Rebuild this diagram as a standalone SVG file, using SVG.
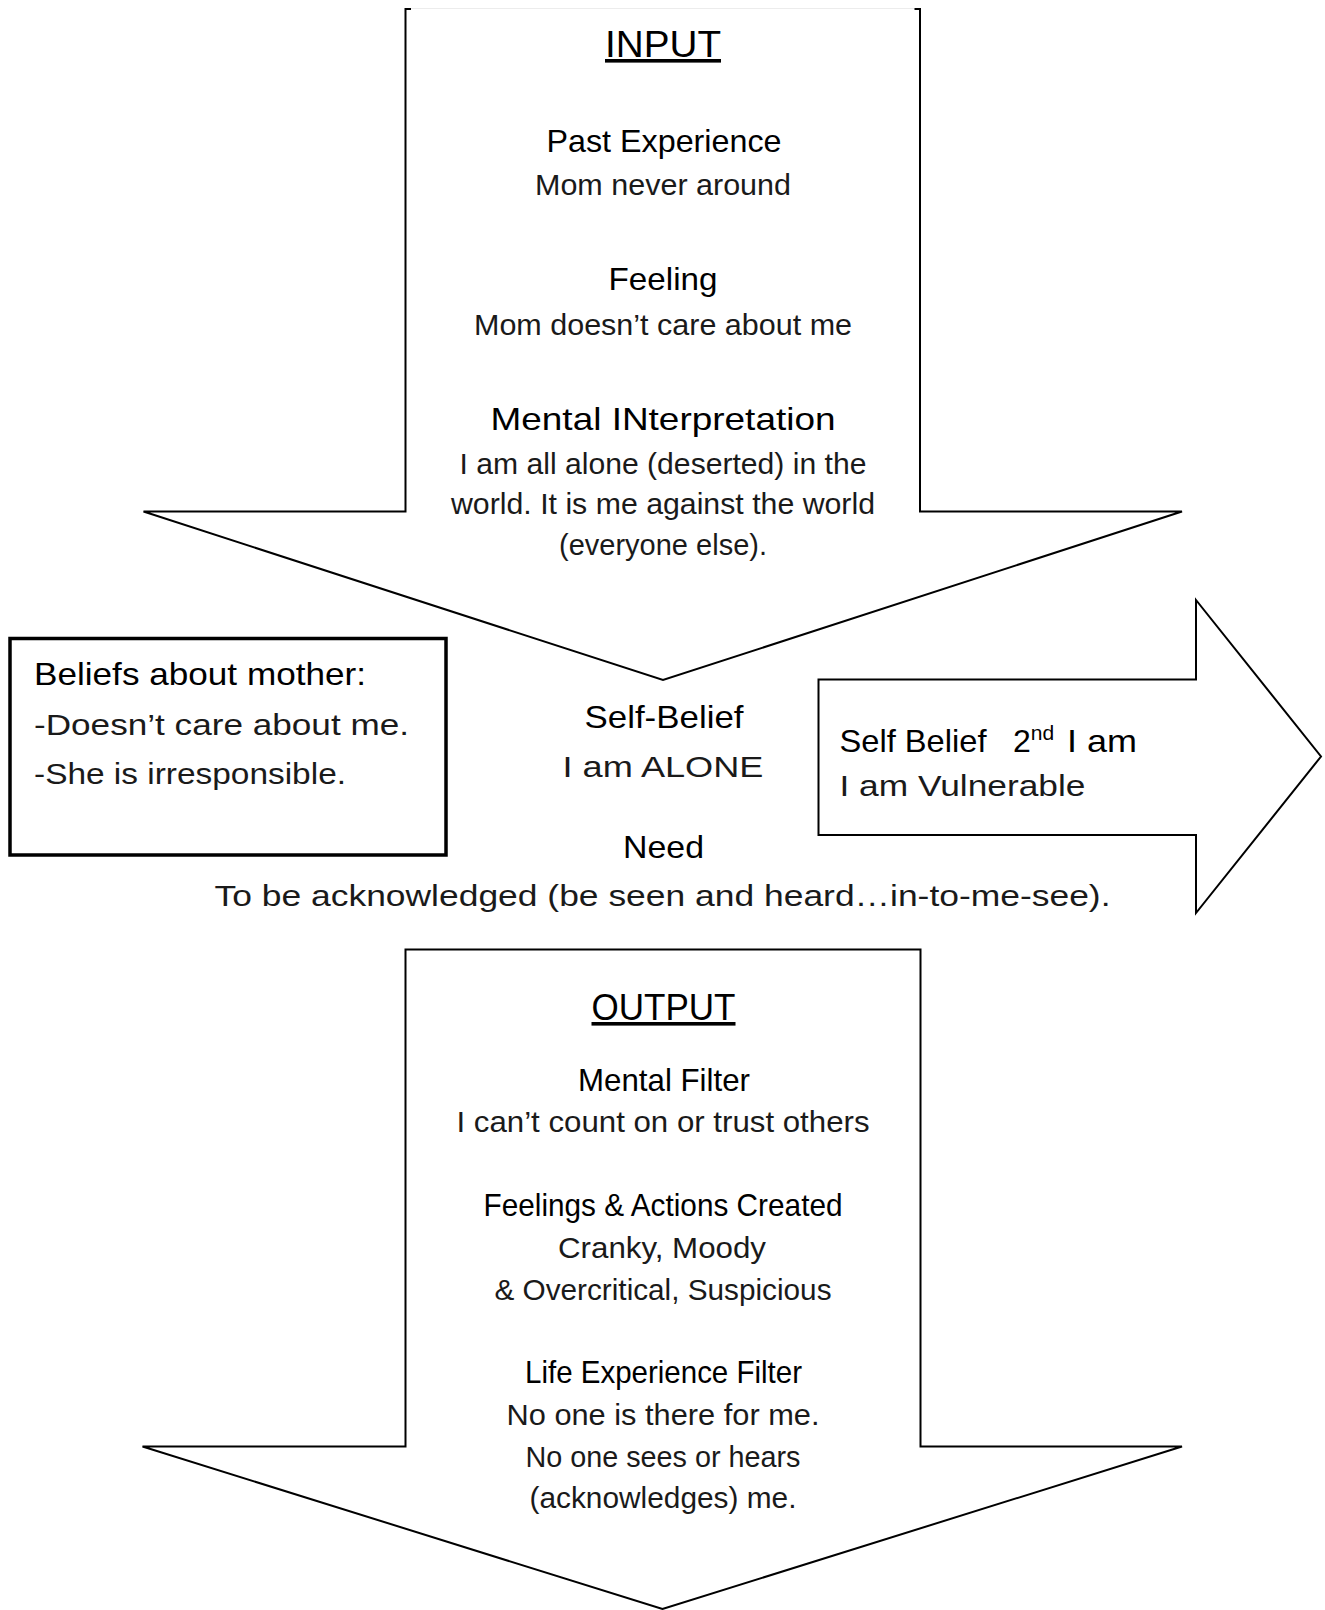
<svg xmlns="http://www.w3.org/2000/svg" width="1325" height="1610" viewBox="0 0 1325 1610">
<style>
.shape{fill:#fff;stroke:#000;stroke-width:2;stroke-linejoin:miter}
.box{fill:#fff;stroke:#000;stroke-width:3.5}
text{font-family:"Liberation Sans",Arial,sans-serif;fill:#000}
.t{font-size:36px;text-anchor:middle;text-decoration:underline}
.h{font-size:32px;text-anchor:middle}
.b{font-size:30px;text-anchor:middle;fill:#1a1a1a}
.hl{font-size:32px}
.bl{font-size:30px;fill:#1a1a1a}
</style>
<rect width="1325" height="1610" fill="#fff"/>
<g id="connectors">
  <g id="input-arrow">
    <polygon points="405.5,9 920,9 920,511.5 1182,511.5 663,680 143.5,511.5 405.5,511.5" fill="#fff" stroke="none"/>
    <line x1="405.5" y1="9" x2="920" y2="9" stroke="#d8d8d8" stroke-width="1"/>
    <path class="shape" fill="none" d="M411,9 H405.5 V511.5 H143.5 L663,680 L1182,511.5 H920 V9 H914.5"/>
  </g>
  <g id="self-belief-arrow">
    <polygon class="shape" points="818.5,679.5 1196,679.5 1196,600 1321,756.5 1196,913 1196,835 818.5,835"/>
  </g>
  <g id="output-arrow">
    <polygon class="shape" points="405.5,949.5 920.5,949.5 920.5,1446.5 1182,1446.5 662.5,1609 142.5,1446.5 405.5,1446.5"/>
  </g>
</g>
<g id="input">
  <text class="t" x="663" y="57" textLength="116" lengthAdjust="spacingAndGlyphs">INPUT</text>
  <text class="h" x="664" y="152" textLength="235" lengthAdjust="spacingAndGlyphs">Past Experience</text>
  <text class="b" x="663" y="195" textLength="256" lengthAdjust="spacingAndGlyphs">Mom never around</text>
  <text class="h" x="663" y="290" textLength="109" lengthAdjust="spacingAndGlyphs">Feeling</text>
  <text class="b" x="663" y="335" textLength="378" lengthAdjust="spacingAndGlyphs">Mom doesn’t care about me</text>
  <text class="h" x="663" y="430" textLength="345" lengthAdjust="spacingAndGlyphs">Mental INterpretation</text>
  <text class="b" x="663" y="474" textLength="407" lengthAdjust="spacingAndGlyphs">I am all alone (deserted) in the</text>
  <text class="b" x="663" y="514" textLength="424" lengthAdjust="spacingAndGlyphs">world. It is me against the world</text>
  <text class="b" x="663" y="555" textLength="208" lengthAdjust="spacingAndGlyphs">(everyone else).</text>
</g>
<g id="beliefs-about-mother">
  <rect class="box" x="10" y="638.5" width="436" height="216.5"/>
  <text class="hl" x="34" y="685" textLength="332" lengthAdjust="spacingAndGlyphs">Beliefs about mother:</text>
  <text class="bl" x="34" y="735" textLength="375" lengthAdjust="spacingAndGlyphs">-Doesn’t care about me.</text>
  <text class="bl" x="34" y="784" textLength="312" lengthAdjust="spacingAndGlyphs">-She is irresponsible.</text>
</g>
<g id="self-belief">
  <text class="h" x="664" y="728" textLength="159" lengthAdjust="spacingAndGlyphs">Self-Belief</text>
  <text class="b" x="663" y="777" textLength="201" lengthAdjust="spacingAndGlyphs">I am ALONE</text>
</g>
<g id="self-belief-2nd">
  <text class="hl" y="752"><tspan x="839.5" textLength="147" lengthAdjust="spacingAndGlyphs">Self Belief</tspan><tspan x="1013">2</tspan><tspan dy="-12" font-size="21">nd</tspan><tspan x="1067" dy="12" textLength="70" lengthAdjust="spacingAndGlyphs">I am</tspan></text>
  <text class="bl" x="839.5" y="796" textLength="246" lengthAdjust="spacingAndGlyphs">I am Vulnerable</text>
</g>
<g id="need">
  <text class="h" x="663.5" y="858" textLength="81" lengthAdjust="spacingAndGlyphs">Need</text>
  <text class="b" x="662.5" y="906" textLength="896" lengthAdjust="spacingAndGlyphs">To be acknowledged (be seen and heard…in-to-me-see).</text>
</g>
<g id="output">
  <text class="t" x="663.5" y="1020" textLength="144" lengthAdjust="spacingAndGlyphs">OUTPUT</text>
  <text class="h" x="664" y="1091" textLength="172" lengthAdjust="spacingAndGlyphs">Mental Filter</text>
  <text class="b" x="663" y="1132" textLength="413" lengthAdjust="spacingAndGlyphs">I can’t count on or trust others</text>
  <text class="h" x="663" y="1216" textLength="359" lengthAdjust="spacingAndGlyphs">Feelings &amp; Actions Created</text>
  <text class="b" x="662" y="1258" textLength="208" lengthAdjust="spacingAndGlyphs">Cranky, Moody</text>
  <text class="b" x="663" y="1300" textLength="337" lengthAdjust="spacingAndGlyphs">&amp; Overcritical, Suspicious</text>
  <text class="h" x="663.5" y="1383" textLength="277" lengthAdjust="spacingAndGlyphs">Life Experience Filter</text>
  <text class="b" x="663" y="1425" textLength="313" lengthAdjust="spacingAndGlyphs">No one is there for me.</text>
  <text class="b" x="663" y="1467" textLength="275" lengthAdjust="spacingAndGlyphs">No one sees or hears</text>
  <text class="b" x="663" y="1508" textLength="267" lengthAdjust="spacingAndGlyphs">(acknowledges) me.</text>
</g>
</svg>
